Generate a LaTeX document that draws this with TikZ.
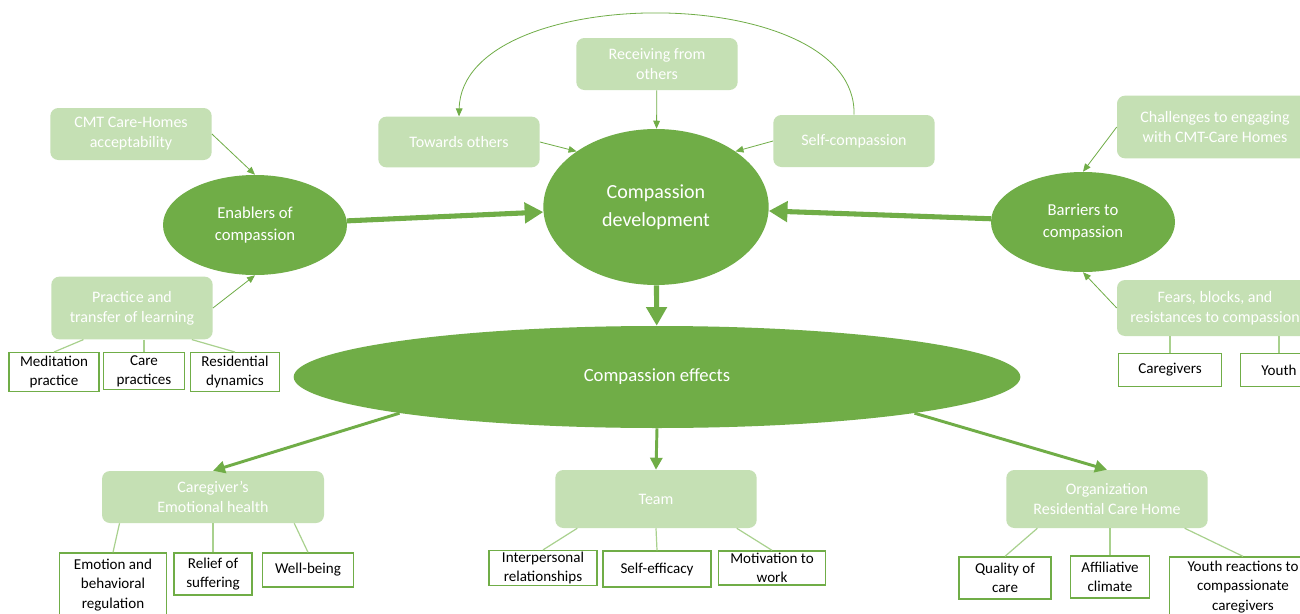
\documentclass[tikz,border=0pt]{standalone}
\usepackage{fontspec}
\setmainfont{Carlito}
\usetikzlibrary{arrows.meta, positioning, shapes.geometric, calc}
\definecolor{deepgreen}{HTML}{70AD47}
\definecolor{palegreen}{HTML}{C5E0B4}
\definecolor{linkgreen}{HTML}{A9D18E}

\begin{document}
\begin{tikzpicture}[
        x=0.75pt, y=-0.75pt,
        themebox/.style={rounded corners=6pt, fill=palegreen, text=white, align=center, font=\fontsize{12}{15}\selectfont, minimum width=121pt, minimum height=39pt, inner sep=2pt},
        coreoval/.style={ellipse, fill=deepgreen, text=white, align=center, inner sep=0pt},
        codebox/.style={draw=deepgreen, line width=1pt, fill=white, align=center, font=\fontsize{11.3}{14.5}\selectfont, inner sep=1pt},
        bigarr/.style={-{Triangle[length=14pt, width=15pt]}, line width=3.8pt, color=deepgreen},
        midarr/.style={-{Triangle[length=9pt, width=9pt]}, line width=2.2pt, color=deepgreen},
        thinarr/.style={-{Triangle[length=6pt, width=5pt]}, line width=0.6pt, color=deepgreen},
        link/.style={color=linkgreen, line width=0.9pt}
      ]
        \path[use as bounding box, fill=white] (0,0) rectangle (1300,614);

        \node[coreoval, minimum width=169pt, minimum height=117pt, font=\fontsize{15}{21}\selectfont] (dev) at (656,207) {Compassion\\development};
        \node[coreoval, minimum width=138pt, minimum height=75pt, font=\fontsize{12.5}{17}\selectfont] (enab) at (255,225) {Enablers of\\compassion};
        \node[coreoval, minimum width=138pt, minimum height=75pt, font=\fontsize{12.5}{17}\selectfont] (barr) at (1083,222) {Barriers to\\compassion};
        \node[coreoval, minimum width=545pt, minimum height=76.5pt, font=\fontsize{14}{17}\selectfont] (effects) at (657,377) {Compassion effects};

        \node[themebox] (cmt) at (131,134) {CMT Care-Homes\\acceptability};
        \node[themebox, minimum height=47pt] (prac) at (132,308) {Practice and\\transfer of learning};
        \node[themebox, minimum height=38pt] (toward) at (459,142) {Towards others};
        \node[themebox] (recv) at (657,64) {Receiving from\\others};
        \node[themebox] (selfc) at (854,141) {Self-compassion};
        \node[themebox, minimum width=147pt, minimum height=47pt] (chall) at (1215,127) {Challenges to engaging\\with CMT-Care Homes};
        \node[themebox, minimum width=147pt, minimum height=42pt] (fears) at (1215,308) {Fears, blocks, and\\resistances to compassion};
        \node[themebox, minimum width=166.5pt] (cgh) at (213,497) {Caregiver’s\\Emotional health};
        \node[themebox, minimum width=151pt, minimum height=43.5pt] (team) at (656,499) {Team};
        \node[themebox, minimum width=151pt, minimum height=43.5pt] (org) at (1107,499) {Organization\\Residential Care Home};

        \node[codebox, minimum width=67.5pt, minimum height=29pt] (medit) at (54,372) {Meditation\\practice};
        \node[codebox, minimum width=61pt, minimum height=28pt] (carep) at (144,371) {Care\\practices};
        \node[codebox, minimum width=67pt, minimum height=29pt] (resid) at (235,372) {Residential\\dynamics};
        \node[codebox, minimum width=77pt, minimum height=25pt] (givers) at (1170,370) {Caregivers};
        \node[codebox, minimum width=58pt, minimum height=25pt] (youth) at (1279,370) {Youth};
        \node[codebox, minimum width=80pt, minimum height=48pt] (emoreg) at (113,585) {Emotion and\\behavioral\\regulation};
        \node[codebox, minimum width=58.5pt, minimum height=31.5pt] (relief) at (213,574) {Relief of\\suffering};
        \node[codebox, minimum width=68pt, minimum height=25.5pt] (wellb) at (308,570) {Well-being};
        \node[codebox, minimum width=81pt, minimum height=25.5pt] (interp) at (543,568) {Interpersonal\\relationships};
        \node[codebox, minimum width=81pt, minimum height=27pt] (selfeff) at (657,569) {Self-efficacy};
        \node[codebox, minimum width=80pt, minimum height=25.5pt] (motiv) at (772,568) {Motivation to\\work};
        \node[codebox, minimum width=69pt, minimum height=31.5pt] (qual) at (1005,578) {Quality of\\care};
        \node[codebox, minimum width=59pt, minimum height=31.5pt] (affil) at (1110,577) {Affiliative\\climate};
        \node[codebox, minimum width=110pt, minimum height=45pt] (yreact) at (1243,587) {Youth reactions to\\compassionate\\caregivers};

        \draw[bigarr] (enab) -- (dev);
        \draw[bigarr] (barr) -- (dev);
        \draw[bigarr] (dev) -- (effects);
        \draw[midarr] (effects.188) -- (cgh.north);
        \draw[midarr] (effects.south) -- (team.north);
        \draw[midarr] (effects.-8) -- (org.north);

        \draw[thinarr] (cmt.east) -- (enab.north);
        \draw[thinarr] (prac.east) -- (enab.south);
        \draw[thinarr] (toward.east) -- (dev.145);
        \draw[thinarr] (recv) -- (dev);
        \draw[thinarr] (selfc.west) -- (dev.35);
        \draw[thinarr] (chall.west) -- (barr.north);
        \draw[thinarr] (fears.west) -- (barr.south);
        \draw[thinarr] (selfc.north) .. controls (858,-20) and (462,-20) .. (toward.north);

        \draw[link] ($(prac.south west)!0.2!(prac.south east)$) -- (medit.north);
        \draw[link] (prac.south -| carep.north) -- (carep.north);
        \draw[link] ($(prac.south west)!0.87!(prac.south east)$) -- (resid.north);
        \draw[link] (fears.south -| givers.north) -- (givers.north);
        \draw[link] (fears.south -| youth.north) -- (youth.north);
        \draw[link] ($(cgh.south west)!0.08!(cgh.south east)$) -- (emoreg.north);
        \draw[link] (cgh.south -| relief.north) -- (relief.north);
        \draw[link] ($(cgh.south west)!0.865!(cgh.south east)$) -- (wellb.north);
        \draw[link] ($(team.south west)!0.11!(team.south east)$) -- (interp.north);
        \draw[link] (team.south) -- (selfeff.north);
        \draw[link] ($(team.south west)!0.9!(team.south east)$) -- (motiv.north);
        \draw[link] ($(org.south west)!0.155!(org.south east)$) -- (qual.north);
        \draw[link] (org.south -| affil.north) -- (affil.north);
        \draw[link] ($(org.south west)!0.885!(org.south east)$) -- (yreact.north);
      \end{tikzpicture}
\end{document}
